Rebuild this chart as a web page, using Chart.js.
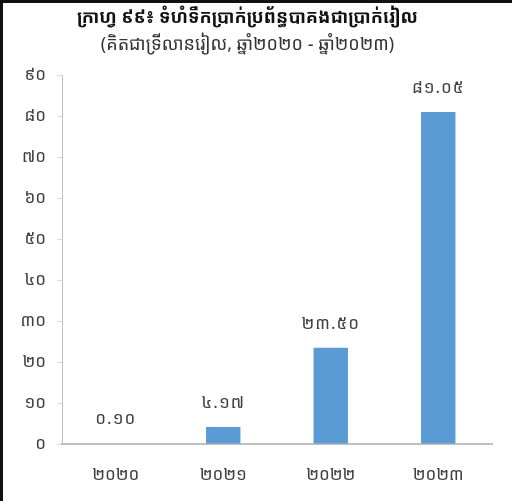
<!DOCTYPE html>
<html>
<head>
<meta charset="utf-8">
<script src="https://cdn.jsdelivr.net/npm/chart.js@4.4.0/dist/chart.umd.min.js"></script>
<style>
  html, body { margin: 0; padding: 0; background: #fff; }
  #wrap { width: 509px; height: 498px; border-top: 3px solid #111; border-left: 3px solid #111; }
</style>
</head>
<body>
<div id="wrap"><canvas id="bakongChart" width="509" height="498"></canvas></div>
<script>
// chart values (trillion riel)
const years = ["២០២០", "២០២១", "២០២២", "២០២៣"];
const amounts = [0.10, 4.17, 23.50, 81.05];
const amountLabels = ["០.១០", "៤.១៧", "២៣.៥០", "៨១.០៥"];
const titleText = "ក្រាហ្វ ៩៩៖ ទំហំទឹកប្រាក់ប្រព័ន្ធបាគងជាប្រាក់រៀល";
const subtitleText = "(គិតជាទ្រីលានរៀល, ឆ្នាំ២០២០ - ឆ្នាំ២០២៣)";

const khmerDigits = ["០", "១", "២", "៣", "៤", "៥", "៦", "៧", "៨", "៩"];
function toKhmer(n) {
  return String(n).replace(/[0-9]/g, d => khmerDigits[d]);
}

const fontFamily = "'Khmer OS', 'Noto Sans Khmer', 'DejaVu Sans', sans-serif";

// value labels above each bar
const barLabels = {
  id: "barLabels",
  afterDatasetsDraw(chart) {
    const ctx = chart.ctx;
    const meta = chart.getDatasetMeta(0);
    ctx.save();
    ctx.fillStyle = "#404040";
    ctx.font = "17px " + fontFamily;
    ctx.letterSpacing = "1px";
    ctx.textAlign = "center";
    ctx.textBaseline = "middle";
    meta.data.forEach((bar, i) => {
      ctx.fillText(amountLabels[i], bar.x, bar.y - 24);
    });
    ctx.restore();
  }
};

const ctx = document.getElementById("bakongChart").getContext("2d");
new Chart(ctx, {
  type: "bar",
  data: {
    labels: years,
    datasets: [{
      data: amounts,
      backgroundColor: "#5b9bd5",
      barPercentage: 0.64,
      categoryPercentage: 0.5
    }]
  },
  options: {
    responsive: false,
    animation: false,
    layout: { padding: { left: 0, right: 20, top: 4, bottom: 0 } },
    plugins: {
      legend: { display: false },
      tooltip: { enabled: false },
      title: {
        display: true,
        text: titleText,
        color: "#111",
        font: { family: fontFamily, size: 18, weight: "bold" },
        padding: { top: 0, bottom: 5 }
      },
      subtitle: {
        display: true,
        text: subtitleText,
        color: "#333",
        font: { family: fontFamily, size: 18 },
        padding: { top: 0, bottom: 20 }
      }
    },
    scales: {
      x: {
        grid: { display: false },
        border: { color: "#bfbfbf", width: 2 },
        ticks: { color: "#404040", font: { family: fontFamily, size: 17 }, padding: 13 },
        afterFit(scale) { scale.height = 57; }
      },
      y: {
        min: 0,
        max: 90,
        grid: { drawOnChartArea: false, drawTicks: true, tickLength: 5, color: "#d9d9d9" },
        border: { color: "#bfbfbf", width: 1 },
        ticks: {
          stepSize: 10,
          color: "#404040",
          font: { family: fontFamily, size: 17 },
          padding: 11,
          callback: v => toKhmer(v)
        },
        afterFit(scale) { scale.width = 59; }
      }
    }
  },
  plugins: [barLabels]
});
</script>
</body>
</html>
